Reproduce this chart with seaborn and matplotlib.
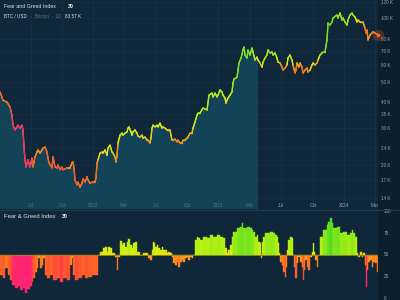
import numpy as np
import matplotlib
matplotlib.use("Agg")
import matplotlib.pyplot as plt
import seaborn as sns
from matplotlib.collections import LineCollection
from matplotlib.colors import LinearSegmentedColormap, Normalize

# ---------------- data ----------------
day = [0, 3, 7, 10, 12, 13, 15, 17, 18, 20, 22, 23, 24, 25, 26, 28, 30, 32, 33, 35, 37, 38, 40, 42, 43,
       45, 47, 48, 49, 52, 53, 55, 57, 58, 60, 62, 63, 67, 70, 72, 73, 74, 75, 77, 78, 80, 82, 83, 85,
       87, 88, 90, 92, 95, 96, 97, 98, 100, 102, 103, 105, 107, 108, 110, 112, 113, 115, 116, 117,
       118, 120, 122, 123, 125, 127, 128, 129, 131, 132, 133, 135, 137, 138, 140, 142, 143, 145, 147,
       148, 150, 151, 152, 153, 155, 157, 158, 160, 162, 163, 165, 167, 168, 170, 172, 173, 175, 177,
       178, 180, 182, 183, 185, 187, 188, 190, 192, 193, 195, 197, 198, 200, 203, 207, 209, 212, 213,
       215, 217, 218, 220, 222, 223, 225, 226, 227, 228, 230, 232, 233, 234, 236, 237, 238, 239, 241,
       243, 244, 245, 247, 248, 250, 252, 253, 255, 257, 258, 260, 262, 263, 265, 267, 268, 270, 272,
       273, 275, 277, 278, 280, 282, 283, 285, 287, 288, 290, 292, 293, 295, 296, 297, 299, 300, 302,
       303, 305, 307, 308, 310, 312, 313, 315, 317, 318, 320, 322, 323, 325, 327, 328, 330, 332, 333,
       337, 338, 340, 342, 343, 345, 347, 348, 350, 352, 353, 355, 357, 358, 360, 362, 363, 365, 366,
       367, 368, 370, 372, 373, 375, 378]
price_k = [44.6, 40.8, 39.9, 37.8, 34.6, 31.0, 29.4, 30.4, 31.0, 30.0, 31.0, 29.4, 24.4, 21.2, 19.6,
           21.2, 19.6, 21.6, 19.6, 21.9, 23.1, 23.6, 22.8, 23.6, 24.1, 24.4, 23.1, 21.6, 20.5, 19.4,
           21.9, 19.6, 19.4, 20.0, 19.0, 19.6, 19.0, 19.4, 19.4, 20.5, 20.7, 19.4, 17.0, 16.1, 16.6,
           15.7, 16.4, 17.2, 16.6, 17.6, 17.0, 16.4, 16.6, 16.6, 17.4, 20.5, 21.2, 22.8, 23.1, 22.8,
           23.6, 22.3, 24.1, 24.9, 23.1, 22.8, 21.9, 20.7, 22.3, 25.5, 27.8, 28.4, 27.8, 28.4, 28.8,
           30.0, 30.4, 28.8, 27.8, 28.8, 29.4, 28.4, 27.5, 27.2, 27.8, 26.9, 27.2, 26.3, 26.3, 25.5,
           26.9, 30.0, 31.0, 30.4, 31.0, 30.4, 31.7, 30.0, 30.4, 30.0, 29.4, 29.4, 29.4, 26.3, 26.3,
           26.6, 25.8, 26.3, 25.5, 25.5, 26.3, 26.3, 26.9, 27.2, 28.4, 28.4, 30.0, 32.1, 34.6, 35.4,
           35.4, 37.4, 36.6, 43.1, 44.1, 42.2, 44.1, 42.2, 43.1, 45.6, 44.6, 43.1, 41.7, 39.5, 40.8,
           41.7, 43.1, 44.6, 49.2, 51.4, 52.0, 52.5, 56.7, 61.3, 64.7, 70.7, 73.0, 66.9, 64.7, 70.7,
           66.9, 72.2, 69.1, 63.3, 65.4, 63.3, 61.3, 58.6, 61.9, 64.7, 66.9, 70.7, 68.4, 69.1, 66.9,
           68.4, 64.7, 61.9, 61.3, 58.6, 56.7, 58.0, 59.9, 64.7, 66.9, 63.3, 59.9, 54.9, 56.7, 61.3,
           58.6, 61.3, 58.6, 54.9, 56.7, 58.0, 55.5, 56.7, 59.9, 61.3, 59.9, 61.3, 63.3, 66.9, 68.4,
           69.1, 69.1, 78.9, 95.0, 92.9, 96.0, 100.4, 103.7, 100.4, 106.0, 98.2, 100.4, 96.0, 92.9,
           98.2, 103.7, 106.0, 103.7, 101.5, 96.0, 98.2, 96.0, 96.0, 96.0, 89.9, 85.1, 88.0, 78.9,
           83.3, 85.1, 86.1, 85.1, 83.6]

fg_day = [0, 3, 5, 8, 10, 12, 15, 18, 20, 23, 25, 27, 30, 32, 33, 35, 37, 38, 40, 42, 43, 45, 47, 50,
          53, 57, 60, 63, 67, 70, 72, 73, 75, 78, 82, 85, 88, 92, 95, 97, 98, 100, 103, 105, 107, 108,
          110, 112, 115, 117, 118, 120, 122, 123, 125, 127, 128, 130, 132, 133, 135, 137, 140, 143,
          147, 148, 150, 152, 153, 154, 155, 157, 158, 160, 162, 163, 167, 168, 170, 172, 173, 175,
          177, 178, 180, 182, 183, 185, 187, 188, 190, 192, 193, 195, 197, 198, 200, 203, 207, 210,
          213, 217, 220, 223, 225, 227, 228, 230, 232, 233, 237, 240, 242, 243, 247, 250, 252, 253,
          255, 257, 258, 260, 261, 262, 263, 265, 267, 270, 273, 275, 277, 278, 279, 280, 282, 283,
          285, 286, 287, 288, 290, 292, 293, 294, 295, 297, 298, 300, 302, 303, 304, 305, 307, 308,
          310, 312, 313, 314, 315, 317, 318, 320, 323, 327, 328, 330, 332, 333, 337, 340, 343, 347,
          350, 352, 353, 355, 357, 358, 360, 362, 363, 365, 366, 367, 368, 370, 372, 373, 375, 377]
fg_value = [26, 23, 34, 26, 21, 15, 12, 14, 9, 12, 6, 10, 14, 18, 23, 30, 34, 46, 34, 38, 46, 26, 23,
            26, 21, 23, 18, 23, 21, 38, 46, 26, 21, 23, 26, 23, 24, 26, 26, 26, 49, 53, 57, 59, 53,
            59, 57, 52, 47, 32, 47, 65, 61, 63, 59, 64, 68, 61, 57, 63, 64, 53, 49, 52, 52, 46, 44,
            55, 64, 63, 59, 61, 57, 55, 59, 55, 52, 53, 52, 47, 40, 38, 41, 36, 41, 44, 41, 46, 47,
            44, 47, 46, 49, 67, 70, 69, 67, 70, 69, 72, 70, 72, 70, 69, 57, 52, 55, 61, 70, 76, 80,
            82, 86, 80, 82, 80, 78, 76, 70, 72, 64, 63, 46, 64, 70, 75, 75, 76, 75, 72, 70, 63, 52,
            41, 38, 30, 24, 36, 55, 67, 70, 69, 49, 36, 23, 40, 47, 41, 36, 21, 32, 44, 36, 32, 47,
            53, 63, 53, 44, 36, 49, 70, 78, 84, 87, 92, 86, 80, 82, 75, 76, 72, 75, 78, 75, 70, 52,
            47, 53, 47, 52, 38, 13, 32, 41, 44, 36, 41, 40, 30]

tick_pos = [31, 62, 93, 124, 156, 187, 218, 250, 281, 313, 344, 375]
tick_lab = ["Jul", "Oct", "2022", "Mar", "Jul", "Oct", "2023", "Mar", "Jul", "Oct", "2024", "Mar"]
price_ticks = [14, 17, 20, 24, 30, 35, 40, 50, 60, 70, 80, 100, 120]
fg_ticks = [0, 25, 50, 75, 100]
fill_end_day = 258

# ---------------- style ----------------
BG = "#0f2739"
MARGIN = "#0d1f2d"
TXT = "#dde5ea"
TICK = "#93a6b3"
GRID = "#16324a"

sns.set_theme(style="dark", rc={"axes.facecolor": BG, "figure.facecolor": MARGIN,
                                "axes.edgecolor": BG, "grid.color": GRID})
plt.rcParams["font.family"] = ["Liberation Sans", "DejaVu Sans"]

cmap = LinearSegmentedColormap.from_list("fg", [
    (0.00, "#ff1f80"), (0.12, "#ff2470"), (0.17, "#ff3456"), (0.20, "#ff4a3a"),
    (0.25, "#ff6228"), (0.35, "#ff7a20"), (0.45, "#ff9c1a"), (0.50, "#f0cc14"),
    (0.58, "#dcee10"), (0.70, "#b2f014"), (0.82, "#74e41c"), (1.00, "#3ad42a")])
norm = Normalize(0, 100)

fig = plt.figure(figsize=(4, 3), dpi=100)
ax = fig.add_axes([0, 1 - 209 / 300, 378 / 400, 209 / 300])
bx = fig.add_axes([0, 0, 378 / 400, 91 / 300])

x = np.array(day, float)
p = np.array(price_k, float)
fx = np.array(fg_day, float)
fv = np.array(fg_value, float)

# ---------------- top panel ----------------
ax.set_yscale("log")
ax.set_xlim(0, 378)
ax.set_ylim(12.36, 122.26)
m = x <= fill_end_day
ax.fill_between(x[m], p[m], 1, color="#17566a", alpha=0.6, lw=0, zorder=1)
sns.lineplot(x=x, y=p, ax=ax, color="#d0d030", lw=0.9, zorder=2, estimator=None, sort=False)
pts = np.column_stack([x, p]).reshape(-1, 1, 2)
segs = np.concatenate([pts[:-1], pts[1:]], axis=1)
seg_fg = np.interp((x[:-1] + x[1:]) / 2, fx, fv)
lc = LineCollection(segs, colors=cmap(norm(seg_fg)), linewidths=0.95, zorder=3, capstyle="round")
ax.add_collection(lc)
ax.scatter([x[-1]], [p[-1]], s=70, color="#ff6a1a", alpha=0.25, lw=0, zorder=4, clip_on=False)
ax.scatter([x[-1]], [p[-1]], s=7, color="#ff6a1a", lw=0, zorder=5, clip_on=False)

ax.yaxis.tick_right()
ax.set_yticks(price_ticks)
ax.set_yticklabels([f"{t} K" for t in price_ticks])
ax.yaxis.set_minor_locator(matplotlib.ticker.NullLocator())
ax.set_xticks(tick_pos)
ax.set_xticklabels(tick_lab)
ax.tick_params(axis="y", length=0, pad=2, labelsize=3.3, colors=TICK)
ax.tick_params(axis="x", length=0, pad=-4.2, labelsize=3.3, colors=TICK)
for lab in ax.get_yticklabels():
    lab.set_ha("left")
ax.grid(True, color=GRID, lw=0.5)
ax.set_xlabel("")
ax.set_ylabel("")
for s in ax.spines.values():
    s.set_visible(False)

# ---------------- bottom panel ----------------
bx.set_xlim(0, 378)
bx.set_ylim(-2.3, 102.3)
widths = np.diff(np.append(fx, 378.0))
bx.bar(fx, fv - 50, bottom=50, width=widths, align="edge",
       color=cmap(norm(fv)), edgecolor=cmap(norm(fv)), lw=0.3, zorder=2)
bx.axhline(50, color="#9a8a22", lw=0.6, zorder=3)
bx.yaxis.tick_right()
bx.set_yticks(fg_ticks)
bx.set_yticklabels([str(t) for t in fg_ticks])
bx.set_xticks([])
bx.tick_params(axis="y", length=0, pad=4, labelsize=3.3, colors=TICK)
for lab in bx.get_yticklabels():
    lab.set_ha("left")
bx.grid(False)
for s in bx.spines.values():
    s.set_visible(False)

# separator
fig.add_artist(plt.Line2D([0, 1], [1 - 209.5 / 300] * 2, color="#1e3b50", lw=0.8))

# ---------------- texts ----------------
def T(px, py, s, **kw):
    fig.text(px / 400, 1 - py / 300, s, va="center", ha="left", **kw)

T(4, 6, "Fear and Greed Index", color=TXT, fontsize=3.8)
T(68, 6, "30", color="white", fontsize=3.8, fontweight="bold")
T(4, 17, "BTC / USD", color=TXT, fontsize=3.3)
T(31, 17, "·  Bitcoin  ·  1D", color="#5f7482", fontsize=3.3)
T(65, 17, "83.57 K", color=TXT, fontsize=3.3)
T(4, 217, "Fear & Greed Index", color=TXT, fontsize=4.2)
T(62, 217, "30", color="white", fontsize=3.8, fontweight="bold")

fig.savefig("out.png", dpi=100, facecolor=MARGIN)
